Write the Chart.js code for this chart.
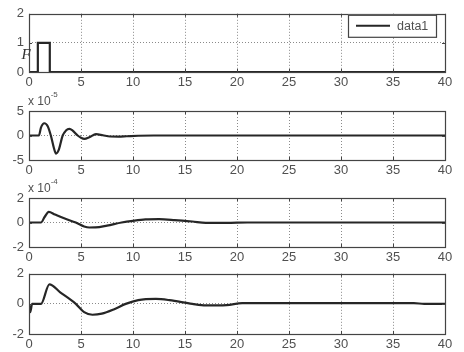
<!DOCTYPE html>
<html><head><meta charset="utf-8">
<script src="https://cdn.jsdelivr.net/npm/chart.js@4.4.1/dist/chart.umd.min.js"></script>
<style>
html,body{margin:0;padding:0;background:#fff;width:464px;height:352px;overflow:hidden;position:relative}
canvas{position:absolute;left:0}
</style></head><body>
<canvas id="c1" width="464" height="91" style="top:1px"></canvas>
<canvas id="c2" width="464" height="93" style="top:87px"></canvas>
<canvas id="c3" width="464" height="93" style="top:174px"></canvas>
<canvas id="c4" width="464" height="93" style="top:261px"></canvas>
<script>
// ---- data ----
const xTicks = [0, 5, 10, 15, 20, 25, 30, 35, 40];
const seriesName = 'data1';

const t1 = [0, 0.85, 0.85, 2.0, 2.0, 40];
const f1 = [0, 0, 1, 1, 0, 0];
const yTicks1 = [0, 1, 2];

const t2 = [0, 0.95, 1.15, 1.47, 1.8, 2.1, 2.4, 2.6, 2.85, 3.24, 3.55, 3.88, 4.2, 4.68, 5.0, 5.32, 5.8, 6.44, 7.1, 7.8, 8.6, 9.4, 10.5, 12, 40];
const v2 = [0, 0, 1.6, 2.5, 1.9, 0, -2.6, -3.7, -3.0, 0, 1.0, 1.35, 1.0, 0, -0.45, -0.67, -0.35, 0.27, 0.05, -0.2, -0.22, -0.15, -0.05, 0, 0];
const yTicks2 = [-5, 0, 5];
const exp2 = '-5';

const t3 = [0, 1.15, 1.5, 1.9, 2.5, 3.5, 4.5, 5.3, 5.8, 6.4, 7.5, 8.9, 10, 11.2, 12.5, 14, 15.7, 17, 19, 21, 40];
const v3 = [0, 0, 0.45, 0.87, 0.65, 0.3, 0, -0.32, -0.41, -0.4, -0.25, 0, 0.14, 0.25, 0.27, 0.2, 0.08, -0.03, -0.03, 0, 0];
const yTicks3 = [-2, 0, 2];
const exp3 = '-4';

const t4 = [0, 0.12, 0.3, 1.15, 1.96, 3.0, 4.5, 5.3, 6.1, 7.0, 8.2, 9.3, 10.5, 12.2, 13.5, 15.7, 17, 19, 20.5, 25, 37, 38, 40];
const v4 = [0, -0.55, 0, 0, 1.3, 0.77, 0, -0.55, -0.72, -0.65, -0.35, 0, 0.25, 0.33, 0.25, 0, -0.1, -0.08, 0.05, 0.05, 0.05, 0, 0];
const yTicks4 = [-2, 0, 2];

// ---- drawing ----
const FONT = "'Liberation Sans', Arial, sans-serif";
const TXT = '#505050';
const LINE = '#262626';
const BOX = '#444';

const decor = {
  id: 'decor',
  afterDatasetsDraw(chart, args, o) {
    const {ctx, chartArea: a, scales} = chart;
    ctx.save();
    ctx.strokeStyle = BOX; ctx.lineWidth = 1;
    ctx.beginPath();
    scales.x.ticks.forEach(t => {
      const px = Math.round(scales.x.getPixelForValue(t.value)) + 0.5;
      ctx.moveTo(px, a.bottom); ctx.lineTo(px, a.bottom - 3);
      ctx.moveTo(px, a.top); ctx.lineTo(px, a.top + 3);
    });
    scales.y.ticks.forEach(t => {
      const py = Math.round(scales.y.getPixelForValue(t.value)) + 0.5;
      ctx.moveTo(a.left, py); ctx.lineTo(a.left + 3, py);
      ctx.moveTo(a.right, py); ctx.lineTo(a.right - 3, py);
    });
    ctx.stroke();
    ctx.strokeStyle = BOX; ctx.lineWidth = 1.2;
    ctx.strokeRect(Math.round(a.left) + 0.5, Math.round(a.top) + 0.5, Math.round(a.right - a.left), Math.round(a.bottom - a.top));
    if (o.exp) {
      ctx.fillStyle = TXT; ctx.textBaseline = 'middle'; ctx.textAlign = 'left';
      ctx.font = '12px ' + FONT;
      ctx.fillText('x 10', a.left - 1, a.top - 9);
      const w = ctx.measureText('x 10').width;
      ctx.font = '8px ' + FONT;
      ctx.fillText(o.exp, a.left - 1 + w, a.top - 16);
    }
    if (o.ylabel) {
      ctx.fillStyle = '#333'; ctx.textAlign = 'center'; ctx.textBaseline = 'middle';
      ctx.font = "italic 15px 'Liberation Serif', serif";
      ctx.fillText(o.ylabel, a.left - 3, a.top + 41);
    }
    if (o.legend) {
      const bx = 348, by = a.top + 1, bw = 88, bh = 22;
      ctx.fillStyle = '#fff';
      ctx.fillRect(bx, by, bw, bh);
      ctx.strokeStyle = BOX; ctx.lineWidth = 1.2;
      ctx.strokeRect(bx + 0.5, by + 0.5, bw, bh);
      ctx.strokeStyle = LINE; ctx.lineWidth = 2;
      ctx.beginPath(); ctx.moveTo(bx + 8, by + 11); ctx.lineTo(bx + 42, by + 11); ctx.stroke();
      ctx.fillStyle = TXT; ctx.textAlign = 'left'; ctx.textBaseline = 'middle';
      ctx.font = '12.5px ' + FONT;
      ctx.fillText(chart.data.datasets[0].label, bx + 49, by + 11.5);
    }
    ctx.restore();
  }
};

function makeChart(id, xs, ys, yTicks, padTop, extra) {
  const pts = xs.map((x, i) => ({x: x, y: ys[i]}));
  const yMin = yTicks[0], yMax = yTicks[yTicks.length - 1];
  const gridColor = (lo, hi) => ctx => (ctx.tick && (ctx.tick.value === lo || ctx.tick.value === hi)) ? 'rgba(0,0,0,0)' : '#8a8a8a';
  return new Chart(document.getElementById(id), {
    type: 'line',
    data: {datasets: [{
      label: seriesName, data: pts, borderColor: LINE, borderWidth: 2.2,
      pointRadius: 0, fill: false, tension: 0,
      cubicInterpolationMode: extra.smooth ? 'monotone' : 'default'
    }]},
    options: {
      responsive: false, animation: false, devicePixelRatio: 1,
      layout: {padding: {top: padTop, left: 0, right: 19, bottom: 0}},
      plugins: {legend: {display: false}, tooltip: {enabled: false}, decor: extra},
      scales: {
        x: {
          type: 'linear', min: 0, max: 40,
          afterBuildTicks: s => { s.ticks = xTicks.map(v => ({value: v})); },
          afterFit: s => { s.height = 20; },
          ticks: {padding: 3, color: TXT, font: {family: FONT, size: 13}, maxRotation: 0, autoSkip: false},
          grid: {drawTicks: false, color: gridColor(0, 40), lineWidth: 1},
          border: {display: false, dash: [1, 2]}
        },
        y: {
          type: 'linear', min: yMin, max: yMax,
          afterBuildTicks: s => { s.ticks = yTicks.map(v => ({value: v})); },
          afterFit: s => { s.width = 29; },
          ticks: {padding: 5, color: TXT, font: {family: FONT, size: 13}, autoSkip: false},
          grid: {drawTicks: false, color: gridColor(yMin, yMax), lineWidth: 1},
          border: {display: false, dash: [1, 2]}
        }
      }
    },
    plugins: [decor]
  });
}

makeChart('c1', t1, f1, yTicks1, 10, {legend: true, ylabel: 'F', smooth: false});
makeChart('c2', t2, v2, yTicks2, 24, {exp: exp2, smooth: true});
makeChart('c3', t3, v3, yTicks3, 24, {exp: exp3, smooth: true});
makeChart('c4', t4, v4, yTicks4, 10, {smooth: true});
</script>
</body></html>
